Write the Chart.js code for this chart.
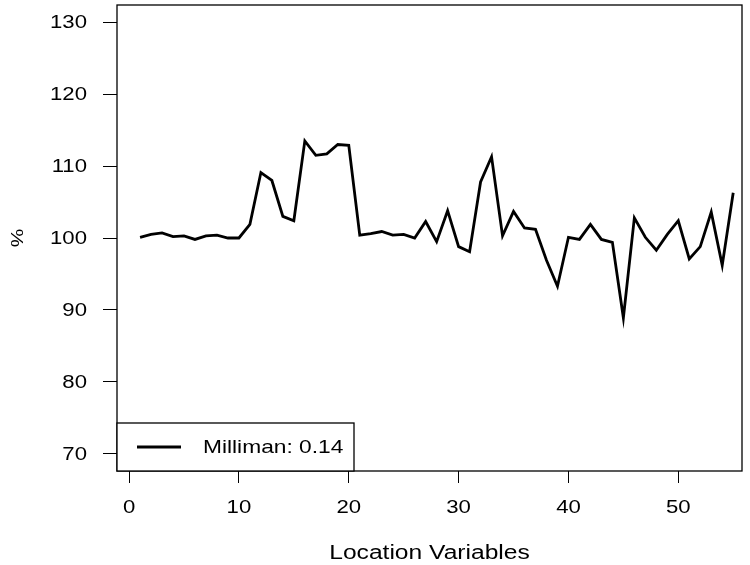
<!DOCTYPE html>
<html>
<head>
<meta charset="utf-8">
<script src="https://cdn.jsdelivr.net/npm/chart.js@4"></script>
<style>
  html, body { margin: 0; padding: 0; background: #fff; }
  #wrap { width: 750px; height: 565px; }
</style>
</head>
<body>
<div id="wrap"><canvas id="c" width="750" height="565"></canvas></div>
<script>
// data
const SERIES_LABEL = 'Milliman: 0.14';
const X_TITLE = 'Location Variables';
const Y_TITLE = '%';
const LOCATION = Array.from({length: 55}, (_, i) => i + 1);
const PCT = [
  100.1, 100.5, 100.7, 100.2, 100.3, 99.8, 100.3, 100.4, 100.0, 100.0,
  101.9, 109.1, 108.0, 103.0, 102.4, 113.5, 111.5, 111.7, 113.0, 112.9,
  100.4, 100.6, 100.9, 100.4, 100.5, 100.0, 102.3, 99.5, 103.8, 98.8,
  98.1, 107.8, 111.3, 100.3, 103.7, 101.4, 101.2, 96.9, 93.3, 100.1,
  99.8, 101.9, 99.8, 99.4, 88.9, 102.8, 100.1, 98.3, 100.5, 102.4,
  97.1, 98.8, 103.6, 96.2, 106.3
];
const X_TICKS = [0, 10, 20, 30, 40, 50];
const Y_TICKS = [70, 80, 90, 100, 110, 120, 130];

const FONT = '"Liberation Sans", Arial, Helvetica, sans-serif';
const SX = 1.23; // the R device text is a bit wide

function wideText(ctx, text, x, y, align, size, rot) {
  ctx.save();
  ctx.translate(x, y);
  if (rot) ctx.rotate(rot);
  ctx.scale(SX, 1);
  ctx.font = `${size}px ${FONT}`;
  ctx.textAlign = align;
  ctx.textBaseline = 'middle';
  ctx.fillStyle = '#000';
  ctx.fillText(text, 0, 0);
  ctx.restore();
}

// box, tick labels, titles and legend, R style
const frame = {
  id: 'frame',
  afterDatasetsDraw(chart) {
    const { ctx, chartArea: a, scales } = chart;
    ctx.save();
    ctx.strokeStyle = '#000';
    ctx.lineWidth = 1.3;
    ctx.strokeRect(a.left, a.top, a.right - a.left, a.bottom - a.top);

    scales.y.ticks.forEach(t => wideText(ctx, String(t.value), 87, scales.y.getPixelForValue(t.value) + 1, 'right', 18));
    scales.x.ticks.forEach(t => wideText(ctx, String(t.value), scales.x.getPixelForValue(t.value), 508, 'center', 18));
    wideText(ctx, X_TITLE, (a.left + a.right) / 2, 553, 'center', 20);
    wideText(ctx, Y_TITLE, 18, (a.top + a.bottom) / 2, 'center', 17, -Math.PI / 2);

    // legend
    const lx = a.left, ly = a.bottom - 48, lw = 237, lh = 48;
    ctx.fillStyle = '#fff';
    ctx.fillRect(lx, ly, lw, lh);
    ctx.strokeRect(lx, ly, lw, lh);
    const my = ly + lh / 2;
    ctx.beginPath();
    ctx.lineWidth = 2.8;
    ctx.moveTo(lx + 20, my);
    ctx.lineTo(lx + 64, my);
    ctx.stroke();
    ctx.restore();
    wideText(ctx, chart.data.datasets[0].label, lx + 86, my + 1, 'left', 18.5);
  }
};

new Chart(document.getElementById('c'), {
  type: 'line',
  data: {
    labels: LOCATION,
    datasets: [{
      label: SERIES_LABEL,
      data: LOCATION.map((x, i) => ({ x, y: PCT[i] })),
      borderColor: '#000',
      borderWidth: 2.8,
      pointRadius: 0,
      tension: 0,
      fill: false
    }]
  },
  options: {
    responsive: false,
    animation: false,
    layout: { padding: { left: 0, top: 5, right: 8, bottom: 0 } },
    plugins: { legend: { display: false }, tooltip: { enabled: false } },
    scales: {
      x: {
        type: 'linear',
        min: -1.1,
        max: 55.8,
        afterBuildTicks: s => { s.ticks = X_TICKS.map(v => ({ value: v })); },
        afterFit: s => { s.height = 94; s.paddingLeft = 0; s.paddingRight = 0; },
        grid: { drawOnChartArea: false, drawTicks: true, tickLength: 12, color: '#000', lineWidth: 1 },
        border: { display: false },
        ticks: { display: false }
      },
      y: {
        min: 67.6,
        max: 132.4,
        afterBuildTicks: s => { s.ticks = Y_TICKS.map(v => ({ value: v })); },
        afterFit: s => { s.width = 117; s.paddingTop = 0; s.paddingBottom = 0; },
        grid: { drawOnChartArea: false, drawTicks: true, tickLength: 14, color: '#000', lineWidth: 1 },
        border: { display: false },
        ticks: { display: false }
      }
    }
  },
  plugins: [frame]
});
</script>
</body>
</html>
